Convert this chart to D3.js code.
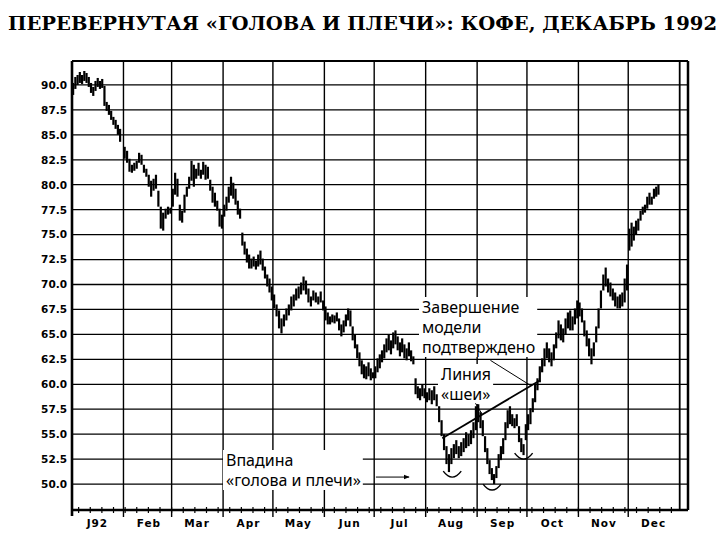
<!DOCTYPE html>
<html>
<head>
<meta charset="utf-8">
<script src="https://cdn.jsdelivr.net/npm/d3@7"></script>
<style>body{margin:0;background:#fff}</style>
</head>
<body>
<script>
var title = "ПЕРЕВЕРНУТАЯ «ГОЛОВА И ПЛЕЧИ»: КОФЕ, ДЕКАБРЬ 1992";
var months = ["J92","Feb","Mar","Apr","May","Jun","Jul","Aug","Sep","Oct","Nov","Dec"];
var yTicks = [50.0, 52.5, 55.0, 57.5, 60.0, 62.5, 65.0, 67.5, 70.0, 72.5, 75.0, 77.5, 80.0, 82.5, 85.0, 87.5, 90.0];

// daily highs and lows, one list per month
var highs = [
  [90.2,90.8,91.0,91.3,91.0,91.4,91.2,90.8,90.2,89.8,90.4,90.7,90.4,90.6,89.9,88.3,88.0,87.4,86.8,86.5,86.0,85.6],
  [83.8,83.4,82.6,82.0,82.2,82.4,83.2,83.0,82.0,81.6,81.0,80.4,80.6,81.0,79.4,77.8,77.2,77.6,77.8,77.7],
  [79.6,81.2,80.6,78.0,77.4,79.0,79.8,80.8,82.4,82.0,81.6,82.2,81.5,82.3,82.0,81.8,80.5,79.8,79.2,78.4,77.6,77.0],
  [78.0,78.8,79.8,80.8,80.2,79.6,78.4,77.6,75.2,74.3,73.6,73.0,72.6,72.8,72.4,73.0,73.4,72.6,71.8,71.0,70.6,69.8],
  [69.0,68.0,67.4,66.6,67.0,67.6,68.0,68.8,69.0,69.6,69.8,70.2,70.8,70.4,69.6,68.8,69.4,69.2,68.8,69.3,68.4],
  [67.8,67.2,66.8,67.0,66.9,67.2,66.6,66.0,66.4,67.0,67.6,67.4,65.8,65.0,64.0,63.2,62.4,62.0,61.8,62.2,61.6,61.2],
  [61.8,62.6,63.0,63.4,64.0,64.6,65.0,64.4,65.2,65.4,64.8,64.2,64.6,64.0,63.6,64.2,63.4,62.8,60.6,59.8,59.6,60.0,59.6],
  [59.2,59.6,59.4,59.8,59.0,57.8,56.4,55.0,53.8,53.0,53.6,54.0,54.4,53.8,54.2,54.6,55.2,55.0,55.4,56.2,57.8],
  [58.0,57.2,56.4,54.8,53.6,52.4,51.6,51.0,51.8,53.0,53.8,54.6,56.2,57.4,57.8,57.0,56.6,57.0,55.8,54.6,54.0,56.0],
  [57.0,57.6,58.6,60.0,60.6,61.8,62.6,63.6,64.2,63.6,63.2,64.0,65.2,66.4,66.0,65.6,66.6,67.2,67.4,66.8,67.6,68.4],
  [68.2,67.6,66.4,65.4,64.6,63.6,64.2,65.8,67.6,69.4,71.0,71.7,70.6,70.2,69.6,69.2,68.8,69.0,69.2,70.6,72.0],
  [75.6,76.2,75.8,76.4,76.6,77.4,77.8,78.0,78.8,79.2,78.8,79.6,79.8,80.0]
];
var lows = [
  [89.0,89.6,90.0,90.2,90.1,90.4,90.2,89.8,89.2,88.9,89.4,89.8,89.6,89.7,87.9,87.4,87.0,86.5,86.0,85.6,85.0,84.3],
  [82.6,82.2,81.3,81.2,81.4,81.6,82.2,82.0,81.2,80.8,79.8,78.8,79.4,79.6,77.8,75.6,75.4,76.6,77.0,77.1],
  [77.8,79.0,78.8,76.4,76.2,77.2,78.8,79.6,80.4,79.8,80.6,80.9,80.6,81.0,80.5,80.6,79.4,78.2,77.8,77.4,75.8,75.6],
  [76.8,77.4,78.2,78.9,78.6,78.0,77.0,76.6,73.9,73.0,72.2,71.6,71.6,71.8,71.5,71.8,72.0,71.4,70.6,69.8,69.2,68.4],
  [67.6,66.8,65.6,65.1,65.8,66.4,66.9,67.4,67.8,68.4,68.6,69.0,69.4,69.0,68.2,67.8,68.4,68.2,68.0,68.2,67.4],
  [66.4,66.0,66.0,66.2,66.1,66.3,65.4,64.8,65.2,65.8,66.4,65.8,64.4,63.6,62.6,61.8,61.0,60.6,60.5,60.8,60.4,60.6],
  [60.6,61.2,61.6,62.2,62.6,63.2,63.4,63.0,63.6,64.0,63.4,62.8,63.2,62.6,62.4,62.8,62.3,62.0,59.0,58.6,58.4,58.8,58.6],
  [58.2,58.4,58.0,58.4,57.8,56.2,54.8,53.4,52.0,51.2,52.0,52.6,53.0,52.6,52.8,53.2,53.6,53.8,54.0,54.6,55.4],
  [56.2,55.6,54.8,53.2,52.0,51.0,50.4,50.0,50.6,51.6,52.4,53.0,54.4,55.6,56.0,55.8,55.6,55.8,54.2,53.2,52.9,54.4],
  [55.4,56.0,57.2,58.2,59.4,60.2,61.2,61.8,62.6,62.2,61.8,62.4,63.6,64.6,64.4,64.2,65.0,65.6,65.4,65.4,66.0,66.6],
  [66.8,66.2,64.8,63.8,62.8,62.0,62.8,64.2,65.6,67.6,69.4,69.8,69.2,68.8,68.4,67.8,67.6,67.6,67.8,68.2,69.4],
  [73.4,73.8,74.4,75.0,75.4,76.4,77.0,77.2,77.6,78.0,78.0,78.6,78.8,79.0]
];

// annotations
var notes = [
  {lines: ["Завершение", "модели", "подтверждено"], x: 422, y: 313},
  {lines: ["Линия", "«шеи»"], x: 441, y: 380},
  {lines: ["Впадина", "«голова и плечи»"], x: 226, y: 466}
];
var neckline = [{date: new Date(1992, 7, 11), price: 54.6}, {date: new Date(1992, 9, 9), price: 60.4}];
var pointers = [
  [{date: new Date(1992, 8, 9), price: 62.4}, {date: new Date(1992, 9, 3), price: 59.9}],
  [{date: new Date(1992, 7, 31), price: 58.1}, {date: new Date(1992, 8, 4), price: 57.0}]
];
var arrowLine = [{date: new Date(1992, 6, 2), price: 50.7}, {date: new Date(1992, 6, 22), price: 50.7}];
var smiles = [
  {date: new Date(1992, 7, 17), price: 51.0},
  {date: new Date(1992, 8, 10), price: 49.7},
  {date: new Date(1992, 8, 29), price: 52.8}
];

var w = 720, h = 540;
var pLeft = 72, pRight = 688, pTop = 61, pBottom = 510;

var x = d3.scaleTime()
  .domain([new Date(1992, 0, 1), new Date(1993, 0, 6)])
  .range([pLeft, pRight]);
var y = d3.scaleLinear().domain([47.4, 92.4]).range([pBottom, pTop]);

// bars spread evenly over the trading days of each month
var bars = [];
highs.forEach(function(mh, m) {
  var start = new Date(1992, m, 1), end = new Date(1992, m + 1, 1);
  var wd = d3.timeDay.range(start, end).filter(function(d) { return d.getDay() % 6 != 0 }).length;
  var step = (end - start) / wd;
  mh.forEach(function(v, i) {
    bars.push({date: new Date(+start + (i + 0.5) * step), high: v, low: lows[m][i]});
  });
});

var svg = d3.select("body").append("svg")
  .attr("width", w)
  .attr("height", h);

svg.append("text")
  .text(title)
  .attr("x", 8)
  .attr("y", 30)
  .attr("textLength", 709)
  .attr("lengthAdjust", "spacingAndGlyphs")
  .attr("font-family", "DejaVu Serif, serif")
  .attr("font-weight", "bold")
  .attr("font-size", "19px")
  .attr("fill", "#000");

// grid
svg.append("g").selectAll("line")
  .data(yTicks)
  .enter().append("line")
  .attr("x1", pLeft).attr("x2", pRight)
  .attr("y1", function(d) { return y(d) }).attr("y2", function(d) { return y(d) })
  .attr("stroke", "#000").attr("stroke-width", 1.3);

var monthStarts = d3.range(1, 13).map(function(m) { return new Date(1992, m, 1) });
svg.append("g").selectAll("line")
  .data(monthStarts)
  .enter().append("line")
  .attr("x1", function(d) { return x(d) }).attr("x2", function(d) { return x(d) })
  .attr("y1", pTop).attr("y2", function(d, i) { return i == 11 ? pBottom : pBottom + 7 })
  .attr("stroke", "#000").attr("stroke-width", function(d, i) { return i == 11 ? 1.8 : 1.4 });

// weekly minor ticks
svg.append("g").selectAll("line")
  .data(d3.timeWeek.range(new Date(1992, 0, 1), new Date(1993, 0, 1)))
  .enter().append("line")
  .attr("x1", function(d) { return x(d) }).attr("x2", function(d) { return x(d) })
  .attr("y1", pBottom - 3).attr("y2", pBottom + 3)
  .attr("stroke", "#000").attr("stroke-width", 1.2);

// frame
svg.append("line").attr("x1", pLeft).attr("x2", pRight).attr("y1", pTop).attr("y2", pTop)
  .attr("stroke", "#000").attr("stroke-width", 2);
svg.append("line").attr("x1", pRight).attr("x2", pRight).attr("y1", pTop).attr("y2", pBottom)
  .attr("stroke", "#000").attr("stroke-width", 2.5);
svg.append("line").attr("x1", pLeft).attr("x2", pLeft).attr("y1", pTop).attr("y2", pBottom + 6)
  .attr("stroke", "#000").attr("stroke-width", 2.6);
svg.append("line").attr("x1", pLeft).attr("x2", pRight).attr("y1", pBottom).attr("y2", pBottom)
  .attr("stroke", "#000").attr("stroke-width", 2.6);

// axes labels
var yAxis = svg.append("g")
  .attr("transform", "translate(" + pLeft + ",0)")
  .call(d3.axisLeft(y).tickValues(yTicks).tickSize(0).tickPadding(5).tickFormat(d3.format(".1f")));
yAxis.select(".domain").remove();
yAxis.selectAll("text")
  .attr("font-family", "DejaVu Sans, sans-serif")
  .attr("font-weight", "bold")
  .attr("font-size", "10.5px")
  .attr("fill", "#000");

var mids = months.map(function(m, i) { return new Date(1992, i, 16) });
var xAxis = svg.append("g")
  .attr("transform", "translate(0," + pBottom + ")")
  .call(d3.axisBottom(x).tickValues(mids).tickSize(0).tickPadding(10)
    .tickFormat(function(d, i) { return months[i] }));
xAxis.select(".domain").remove();
xAxis.selectAll("text")
  .attr("font-family", "DejaVu Sans, sans-serif")
  .attr("font-weight", "bold")
  .attr("font-size", "10.5px")
  .attr("letter-spacing", "1px")
  .attr("fill", "#000");

// white boxes behind annotation text, then bars, then text
var boxLayer = svg.append("g");
var barLayer = svg.append("g");
var noteLayer = svg.append("g");

notes.forEach(function(n) {
  var g = noteLayer.append("g");
  n.lines.forEach(function(s, i) {
    g.append("text")
      .attr("x", n.x).attr("y", n.y + i * 20)
      .attr("font-family", "Noto Sans, sans-serif")
      .attr("font-size", "16px")
      .attr("fill", "#000")
      .text(s);
  });
  var b = g.node().getBBox();
  boxLayer.append("rect")
    .attr("x", b.x - 3).attr("y", b.y + 1)
    .attr("width", b.width + 5).attr("height", b.height - 2)
    .attr("fill", "#fff");
});

barLayer.selectAll("line")
  .data(bars)
  .enter().append("line")
  .attr("x1", function(d) { return x(d.date) }).attr("x2", function(d) { return x(d.date) })
  .attr("y1", function(d) { return y(d.high) }).attr("y2", function(d) { return y(d.low) })
  .attr("stroke", "#000").attr("stroke-width", 2.2);

var line = d3.line()
  .x(function(d) { return x(d.date) })
  .y(function(d) { return y(d.price) });

barLayer.append("path").attr("d", line(neckline))
  .attr("fill", "none").attr("stroke", "#000").attr("stroke-width", 1.8);
pointers.forEach(function(p) {
  barLayer.append("path").attr("d", line(p))
    .attr("fill", "none").attr("stroke", "#000").attr("stroke-width", 1);
});

svg.append("defs").append("marker")
  .attr("id", "head")
  .attr("viewBox", "0 0 10 10")
  .attr("refX", 9).attr("refY", 5)
  .attr("markerWidth", 6).attr("markerHeight", 6)
  .attr("orient", "auto")
  .append("path").attr("d", "M0,1 L10,5 L0,9 Z").attr("fill", "#000");

noteLayer.append("path").attr("d", line(arrowLine))
  .attr("fill", "none").attr("stroke", "#000").attr("stroke-width", 1)
  .attr("marker-end", "url(#head)");

noteLayer.selectAll(".smile")
  .data(smiles)
  .enter().append("path")
  .attr("class", "smile")
  .attr("transform", function(d) { return "translate(" + x(d.date) + "," + y(d.price) + ")" })
  .attr("d", "M-9,-3 Q0,9 9,-3")
  .attr("fill", "none").attr("stroke", "#000").attr("stroke-width", 1.4);
</script>
</body>
</html>
